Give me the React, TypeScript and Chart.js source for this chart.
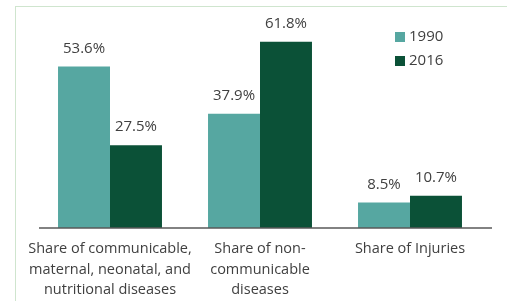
import React, { useEffect, useRef } from "react";
import { Chart, registerables } from "chart.js";

Chart.register(...registerables);

const categories: string[][] = [
  ["Share of communicable,", "maternal, neonatal, and", "nutritional diseases"],
  ["Share of non-", "communicable", "diseases"],
  ["Share of Injuries"],
];
const seriesNames = ["1990", "2016"];
const values1990 = [53.6, 37.9, 8.5];
const values2016 = [27.5, 61.8, 10.7];
const colors = ["#56A7A1", "#0B5137"];

const FONT = "'Open Sans', sans-serif";
const TEXT = "#404040";

const labelPlugin = {
  id: "customDraw",
  afterDatasetsDraw(chart: any) {
    const ctx = chart.ctx;
    const area = chart.chartArea;
    ctx.save();
    // baseline axis
    ctx.strokeStyle = "#595959";
    ctx.lineWidth = 1.5;
    ctx.beginPath();
    ctx.moveTo(area.left + 4, area.bottom);
    ctx.lineTo(area.right + 7, area.bottom);
    ctx.stroke();
    // data labels
    ctx.fillStyle = TEXT;
    ctx.font = `15px ${FONT}`;
    ctx.textAlign = "center";
    ctx.textBaseline = "middle";
    chart.data.datasets.forEach((ds: any, i: number) => {
      const meta = chart.getDatasetMeta(i);
      meta.data.forEach((bar: any, j: number) => {
        ctx.fillText(ds.data[j].toFixed(1) + "%", bar.x, bar.y - 18);
      });
    });
    // legend
    ctx.textAlign = "left";
    ctx.font = `15px ${FONT}`;
    chart.data.datasets.forEach((ds: any, i: number) => {
      const x = area.right - 90;
      const y = area.top + 15 + i * 24;
      ctx.fillStyle = ds.backgroundColor;
      ctx.fillRect(x, y, 10, 10);
      ctx.fillStyle = TEXT;
      ctx.fillText(ds.label, x + 14, y + 5);
    });
    ctx.restore();
  },
};

export default function App() {
  const ref = useRef<HTMLCanvasElement>(null);
  useEffect(() => {
    document.body.style.margin = "0";
    const chart = new Chart(ref.current!, {
      type: "bar",
      data: {
        labels: categories,
        datasets: [
          { label: seriesNames[0], data: values1990, backgroundColor: colors[0] },
          { label: seriesNames[1], data: values2016, backgroundColor: colors[1] },
        ],
      },
      options: {
        animation: false,
        responsive: false,
        maintainAspectRatio: false,
        layout: { padding: { left: 35, right: 22, top: 17, bottom: -10 } },
        datasets: { bar: { categoryPercentage: 0.693, barPercentage: 1.0 } },
        plugins: { legend: { display: false }, tooltip: { enabled: false } },
        scales: {
          x: {
            grid: { display: false, drawTicks: false },
            border: { display: false },
            ticks: {
              color: TEXT,
              font: { family: FONT, size: 14.5, lineHeight: 1.4 },
              maxRotation: 0,
              minRotation: 0,
              autoSkip: false,
              padding: 11,
            },
          },
          y: {
            display: false,
            min: 0,
            max: 70,
          },
        },
      },
      plugins: [labelPlugin],
    });
    return () => chart.destroy();
  }, []);
  return (
    <div style={{ position: "relative", width: 507, height: 301, overflow: "hidden" }}>
      <div
        style={{
          position: "absolute",
          left: 15,
          top: 6,
          right: -10,
          bottom: -10,
          borderTop: "1px solid #CFE5CE",
          borderLeft: "1px solid #CFE5CE",
        }}
      />
      <canvas ref={ref} width={507} height={301} style={{ position: "absolute", left: 0, top: 0 }} />
    </div>
  );
}
